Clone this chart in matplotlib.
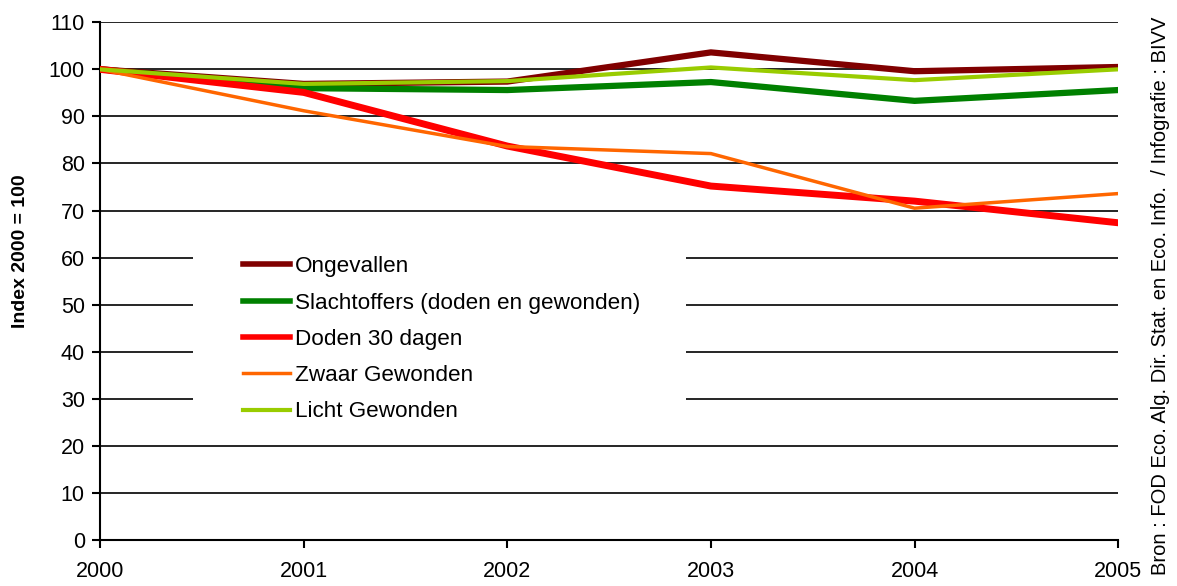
import matplotlib
matplotlib.use("Agg")
import matplotlib.pyplot as plt
from matplotlib.patches import Rectangle

plt.rcParams['font.family'] = ['Liberation Sans', 'DejaVu Sans']

years = [2000, 2001, 2002, 2003, 2004, 2005]
ongevallen = [100, 96.9, 97.4, 103.6, 99.6, 100.5]
slachtoffers = [100, 96.0, 95.6, 97.3, 93.3, 95.6]
doden = [100, 95.1, 83.7, 75.2, 72.0, 67.4]
zwaar = [100, 91.2, 83.6, 82.1, 70.5, 73.6]
licht = [100, 96.9, 97.5, 100.4, 97.7, 100.0]

series = [
    ("Ongevallen", ongevallen, "#800000", 4.5),
    ("Slachtoffers (doden en gewonden)", slachtoffers, "#008000", 4.5),
    ("Doden 30 dagen", doden, "#ff0000", 5),
    ("Zwaar Gewonden", zwaar, "#ff6600", 2.5),
    ("Licht Gewonden", licht, "#99cc00", 3),
]

fig = plt.figure(figsize=(11.77, 5.86), dpi=100)
ax = fig.add_axes([0.085, 0.0785, 0.865, 0.8835])

for y in range(10, 111, 10):
    ax.axhline(y, color="black", lw=1.2, zorder=1)

# white box behind the legend hides the gridlines
ax.add_patch(Rectangle((0.091, 0.222), 0.485, 0.357, transform=ax.transAxes,
                       facecolor="white", edgecolor="none", zorder=2))

for name, vals, col, lw in series:
    ax.plot(years, vals, color=col, lw=lw, label=name, zorder=3,
            solid_joinstyle="miter")

ax.set_xlim(2000, 2005)
ax.set_ylim(0, 110)
ax.set_yticks(range(0, 111, 10))
ax.set_xticks(years)
ax.tick_params(axis="both", labelsize=15.5, width=1.5, length=6, direction="out")
ax.tick_params(axis="x", pad=9)
ax.tick_params(axis="y", pad=5)
for s in ["top", "right"]:
    ax.spines[s].set_visible(False)
for s in ["left", "bottom"]:
    ax.spines[s].set_linewidth(1.5)

ax.set_ylabel("Index 2000 = 100", fontsize=14, fontweight="bold")
ax.yaxis.set_label_coords(-0.07, 0.558)

leg = ax.legend(loc="upper left", bbox_to_anchor=(0.1405, 0.548), frameon=False,
                fontsize=16.2, handlelength=2.1, handletextpad=0.2,
                labelspacing=0.68, borderpad=0, borderaxespad=0)
leg.set_zorder(4)
for h in leg.get_lines():
    h.set_linewidth(min(h.get_linewidth(), 4))

fig.text(0.986, 0.495, "Bron : FOD Eco. Alg. Dir. Stat. en Eco. Info.  / Infografie : BIVV",
         rotation=90, ha="center", va="center", fontsize=14.5)

fig.savefig("out.png", dpi=100)
